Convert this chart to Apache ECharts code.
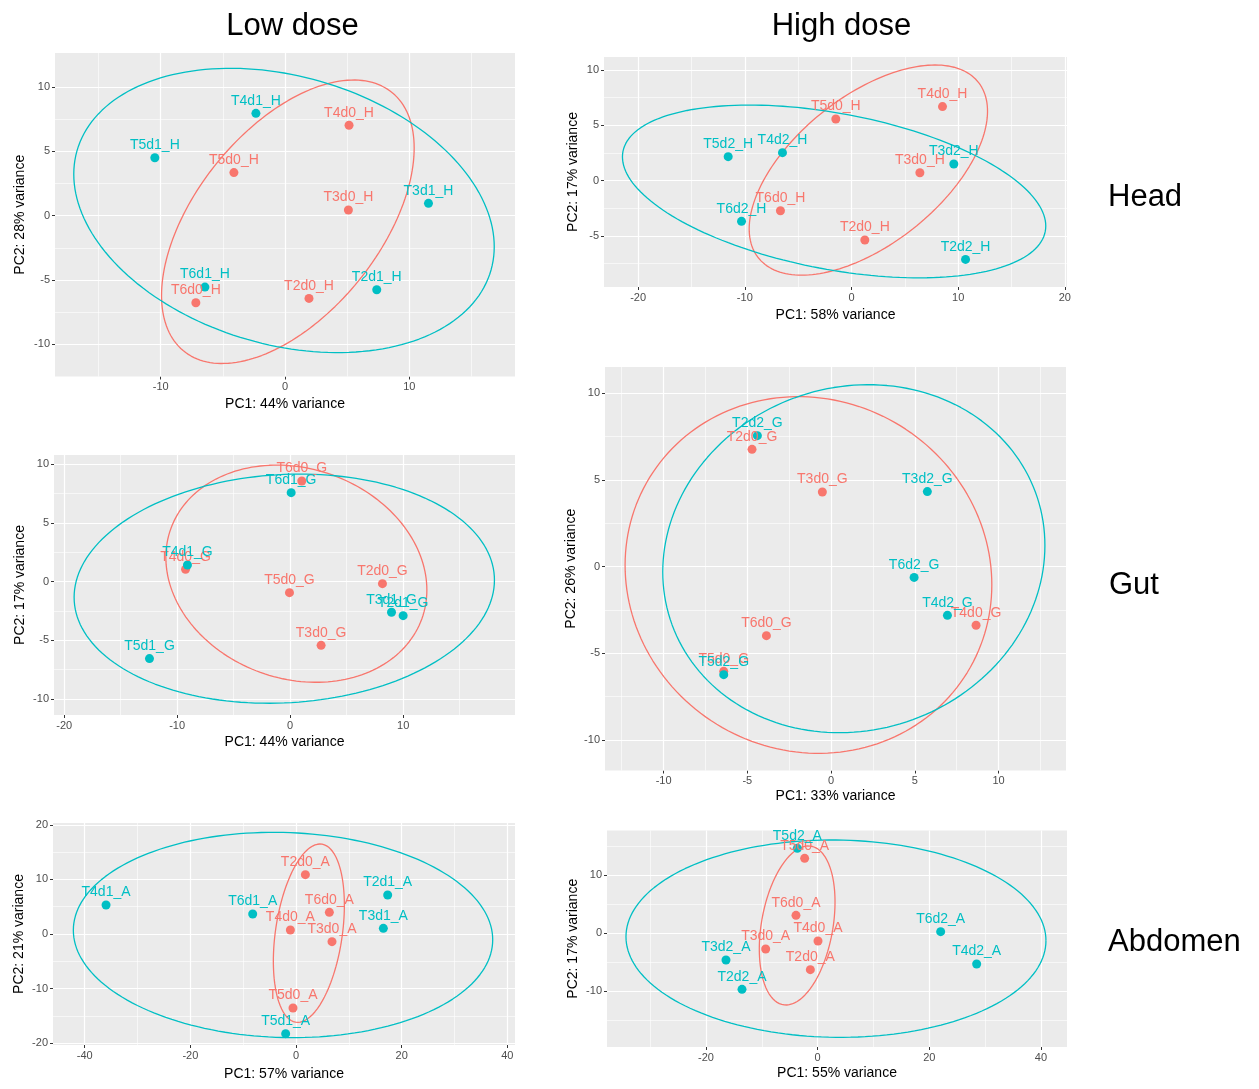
<!DOCTYPE html>
<html><head><meta charset="utf-8">
<script src="https://cdn.jsdelivr.net/npm/echarts@6/dist/echarts.min.js"></script>
<style>html,body{margin:0;padding:0;background:#fff}#c{width:1259px;height:1089px}</style>
</head><body><div id="c"></div><script>
// ---------- DATA ----------
// Head, low dose (d0 vs d1)
const headLowD0Names = ['T2d0_H','T3d0_H','T4d0_H','T5d0_H','T6d0_H'];
const headLowD0PC1 = [1.93, 5.10, 5.15, -4.11, -7.17];
const headLowD0PC2 = [-6.43, 0.44, 7.03, 3.35, -6.77];
const headLowD1Names = ['T2d1_H','T3d1_H','T4d1_H','T5d1_H','T6d1_H'];
const headLowD1PC1 = [7.38, 11.54, -2.34, -10.47, -6.44];
const headLowD1PC2 = [-5.76, 0.96, 7.96, 4.51, -5.55];
// Head, high dose (d0 vs d2)
const headHighD0Names = ['T2d0_H','T3d0_H','T4d0_H','T5d0_H','T6d0_H'];
const headHighD0PC1 = [1.25, 6.41, 8.53, -1.47, -6.66];
const headHighD0PC2 = [-5.36, 0.72, 6.69, 5.57, -2.71];
const headHighD2Names = ['T2d2_H','T3d2_H','T4d2_H','T5d2_H','T6d2_H'];
const headHighD2PC1 = [10.69, 9.59, -6.47, -11.56, -10.31];
const headHighD2PC2 = [-7.11, 1.51, 2.53, 2.17, -3.67];
// Gut, low dose
const gutLowD0Names = ['T2d0_G','T3d0_G','T4d0_G','T5d0_G','T6d0_G'];
const gutLowD0PC1 = [8.17, 2.74, -9.26, -0.06, 1.03];
const gutLowD0PC2 = [-0.17, -5.43, 1.05, -0.94, 8.58];
const gutLowD1Names = ['T2d1_G','T3d1_G','T4d1_G','T5d1_G','T6d1_G'];
const gutLowD1PC1 = [10.0, 8.97, -9.09, -12.45, 0.09];
const gutLowD1PC2 = [-2.90, -2.61, 1.42, -6.56, 7.59];
// Gut, high dose
const gutHighD0Names = ['T2d0_G','T3d0_G','T4d0_G','T5d0_G','T6d0_G'];
const gutHighD0PC1 = [-4.72, -0.52, 8.66, -6.41, -3.86];
const gutHighD0PC2 = [6.77, 4.31, -3.38, -6.04, -3.98];
const gutHighD2Names = ['T2d2_G','T3d2_G','T4d2_G','T5d2_G','T6d2_G'];
const gutHighD2PC1 = [-4.40, 5.75, 6.95, -6.41, 4.96];
const gutHighD2PC2 = [7.56, 4.33, -2.81, -6.23, -0.62];
// Abdomen, low dose
const abdLowD0Names = ['T2d0_A','T3d0_A','T4d0_A','T5d0_A','T6d0_A'];
const abdLowD0PC1 = [1.77, 6.81, -1.07, -0.57, 6.31];
const abdLowD0PC2 = [10.87, -1.40, 0.73, -13.56, 3.97];
const abdLowD1Names = ['T2d1_A','T3d1_A','T4d1_A','T5d1_A','T6d1_A'];
const abdLowD1PC1 = [17.35, 16.53, -35.96, -1.96, -8.20];
const abdLowD1PC2 = [7.15, 1.04, 5.31, -18.26, 3.66];
// Abdomen, high dose
const abdHighD0Names = ['T2d0_A','T3d0_A','T4d0_A','T5d0_A','T6d0_A'];
const abdHighD0PC1 = [-1.31, -9.31, 0.06, -2.33, -3.88];
const abdHighD0PC2 = [-6.34, -2.77, -1.38, 12.91, 3.05];
const abdHighD2Names = ['T2d2_A','T3d2_A','T4d2_A','T5d2_A','T6d2_A'];
const abdHighD2PC1 = [-13.55, -16.42, 28.48, -3.64, 22.03];
const abdHighD2PC2 = [-9.74, -4.67, -5.36, 14.64, 0.23];

// 95% ellipses: [centre PC1, centre PC2, half-extent PC1, half-extent PC2, tilt (cos of phase)]
const headLowEllD0 = [0.23, -0.47, 10.16, 11.02, 0.52];
const headLowEllD1 = [-0.08, 0.41, 16.91, 11.05, -0.255];
const headHighEllD0 = [1.58, 0.96, 11.17, 9.49, 0.56];
const headHighEllD2 = [-1.63, -0.97, 19.84, 7.80, -0.40];
const gutLowEllD0 = [0.55, 0.68, 11.55, 9.26, -0.15];
const gutLowEllD1 = [-0.52, -0.60, 18.6, 9.77, 0.075];
const gutHighEllD0 = [-1.35, -0.48, 10.95, 10.29, -0.055];
const gutHighEllD2 = [1.36, 0.46, 11.41, 10.04, 0.076];
const abdLowEllD0 = [2.43, 0.15, 6.72, 16.34, 0.314];
const abdLowEllD1 = [-2.46, -0.18, 39.69, 18.81, -0.046];
const abdHighEllD0 = [-3.67, 1.30, 6.78, 13.75, 0.295];
const abdHighEllD2 = [3.28, -0.98, 37.61, 17.06, -0.02];

// axis extents, ticks and names
const headLowXRange = [-18.5, 18.5], headLowYRange = [-12.5, 12.65];
const headHighXRange = [-23.2, 20.2], headHighYRange = [-9.6, 11.17];
const gutLowXRange = [-20.9, 19.9], gutLowYRange = [-11.37, 10.8];
const gutHighXRange = [-13.5, 14.03], gutHighYRange = [-11.76, 11.52];
const abdLowXRange = [-46.0, 41.45], abdLowYRange = [-20.34, 20.34];
const abdHighXRange = [-37.73, 44.66], abdHighYRange = [-19.71, 17.72];

const headLowXTicks = [-10, 0, 10], headLowXMinor = [-15, -5, 5, 15];
const headLowYTicks = [-10, -5, 0, 5, 10], headLowYMinor = [-7.5, -2.5, 2.5, 7.5];
const headHighXTicks = [-20, -10, 0, 10, 20], headHighXMinor = [-15, -5, 5, 15];
const headHighYTicks = [-5, 0, 5, 10], headHighYMinor = [-7.5, -2.5, 2.5, 7.5];
const gutLowXTicks = [-20, -10, 0, 10], gutLowXMinor = [-15, -5, 5, 15];
const gutLowYTicks = [-10, -5, 0, 5, 10], gutLowYMinor = [-7.5, -2.5, 2.5, 7.5];
const gutHighXTicks = [-10, -5, 0, 5, 10], gutHighXMinor = [-12.5, -7.5, -2.5, 2.5, 7.5, 12.5];
const gutHighYTicks = [-10, -5, 0, 5, 10], gutHighYMinor = [-7.5, -2.5, 2.5, 7.5];
const abdLowXTicks = [-40, -20, 0, 20, 40], abdLowXMinor = [-30, -10, 10, 30];
const abdLowYTicks = [-20, -10, 0, 10, 20], abdLowYMinor = [-15, -5, 5, 15];
const abdHighXTicks = [-20, 0, 20, 40], abdHighXMinor = [-30, -10, 10, 30];
const abdHighYTicks = [-10, 0, 10], abdHighYMinor = [-15, -5, 5, 15];

const xNames = ['PC1: 44% variance', 'PC1: 58% variance', 'PC1: 44% variance', 'PC1: 33% variance', 'PC1: 57% variance', 'PC1: 55% variance'];
const yNames = ['PC2: 28% variance', 'PC2: 17% variance', 'PC2: 17% variance', 'PC2: 26% variance', 'PC2: 21% variance', 'PC2: 17% variance'];
const columnTitles = ['Low dose', 'High dose'];
const rowTitles = ['Head', 'Gut', 'Abdomen'];

// ---------- LAYOUT / STYLE ----------
const RED = '#F8766D', TEAL = '#00BFC4';
const FONT = '"Liberation Sans", Arial, Helvetica, sans-serif';
const layouts = [
  {left: 55, top: 53, width: 460, height: 323.5, xGap: 21, yGap: 28},
  {left: 604, top: 57, width: 463, height: 230, xGap: 21, yGap: 24},
  {left: 54, top: 455, width: 461, height: 260, xGap: 20, yGap: 27},
  {left: 605, top: 367, width: 461, height: 403.5, xGap: 19, yGap: 27},
  {left: 53, top: 823, width: 462, height: 222, xGap: 22, yGap: 27},
  {left: 607, top: 830.5, width: 460, height: 216.5, xGap: 19, yGap: 27}
];

const panels = [
  {xr: headLowXRange, yr: headLowYRange, xt: headLowXTicks, xm: headLowXMinor, yt: headLowYTicks, ym: headLowYMinor,
   a: [headLowD0Names, headLowD0PC1, headLowD0PC2, headLowEllD0], b: [headLowD1Names, headLowD1PC1, headLowD1PC2, headLowEllD1]},
  {xr: headHighXRange, yr: headHighYRange, xt: headHighXTicks, xm: headHighXMinor, yt: headHighYTicks, ym: headHighYMinor,
   a: [headHighD0Names, headHighD0PC1, headHighD0PC2, headHighEllD0], b: [headHighD2Names, headHighD2PC1, headHighD2PC2, headHighEllD2]},
  {xr: gutLowXRange, yr: gutLowYRange, xt: gutLowXTicks, xm: gutLowXMinor, yt: gutLowYTicks, ym: gutLowYMinor,
   a: [gutLowD0Names, gutLowD0PC1, gutLowD0PC2, gutLowEllD0], b: [gutLowD1Names, gutLowD1PC1, gutLowD1PC2, gutLowEllD1]},
  {xr: gutHighXRange, yr: gutHighYRange, xt: gutHighXTicks, xm: gutHighXMinor, yt: gutHighYTicks, ym: gutHighYMinor,
   a: [gutHighD0Names, gutHighD0PC1, gutHighD0PC2, gutHighEllD0], b: [gutHighD2Names, gutHighD2PC1, gutHighD2PC2, gutHighEllD2]},
  {xr: abdLowXRange, yr: abdLowYRange, xt: abdLowXTicks, xm: abdLowXMinor, yt: abdLowYTicks, ym: abdLowYMinor,
   a: [abdLowD0Names, abdLowD0PC1, abdLowD0PC2, abdLowEllD0], b: [abdLowD1Names, abdLowD1PC1, abdLowD1PC2, abdLowEllD1]},
  {xr: abdHighXRange, yr: abdHighYRange, xt: abdHighXTicks, xm: abdHighXMinor, yt: abdHighYTicks, ym: abdHighYMinor,
   a: [abdHighD0Names, abdHighD0PC1, abdHighD0PC2, abdHighEllD0], b: [abdHighD2Names, abdHighD2PC1, abdHighD2PC2, abdHighEllD2]}
];

function ellipsePoints(e) {
  const [cx, cy, rx, ry, c] = e;
  const d = Math.acos(c);
  const pts = [];
  for (let k = 0; k <= 180; k++) {
    const t = k / 180 * 2 * Math.PI;
    pts.push([cx + rx * Math.cos(t), cy + ry * Math.cos(t - d)]);
  }
  return pts;
}

const grid = [], xAxis = [], yAxis = [], series = [];
panels.forEach((p, i) => {
  const L = layouts[i];
  grid.push({left: L.left, top: L.top, width: L.width, height: L.height, show: true,
             backgroundColor: '#EBEBEB', borderWidth: 0, containLabel: false});
  const axisStyle = (ticks) => ({
    axisLine: {show: false, onZero: false},
    axisTick: {show: true, length: 3, customValues: ticks, lineStyle: {color: '#333333', width: 1}},
    axisLabel: {show: true, customValues: ticks, color: '#4D4D4D', fontSize: 11, fontFamily: FONT, margin: 5},
    splitLine: {show: false}
  });
  xAxis.push(Object.assign({type: 'value', gridIndex: i, min: p.xr[0], max: p.xr[1], position: 'bottom',
    name: xNames[i], nameLocation: 'middle', nameGap: L.xGap,
    nameTextStyle: {fontSize: 14, color: '#000', fontFamily: FONT}}, axisStyle(p.xt)));
  yAxis.push(Object.assign({type: 'value', gridIndex: i, min: p.yr[0], max: p.yr[1], position: 'left',
    name: yNames[i], nameLocation: 'middle', nameGap: L.yGap, nameRotate: 90,
    nameTextStyle: {fontSize: 14, color: '#000', fontFamily: FONT}}, axisStyle(p.yt)));

  // panel grid lines (major + minor), placed through the axes' own scales
  const gl = [];
  p.xm.forEach(v => gl.push({xAxis: v, lineStyle: {width: 0.6}}));
  p.ym.forEach(v => gl.push({yAxis: v, lineStyle: {width: 0.6}}));
  p.xt.forEach(v => gl.push({xAxis: v, lineStyle: {width: 1.2}}));
  p.yt.forEach(v => gl.push({yAxis: v, lineStyle: {width: 1.2}}));
  series.push({
    type: 'scatter', xAxisIndex: i, yAxisIndex: i, data: [], z: 1, silent: true,
    markLine: {silent: true, z: 1, symbol: ['none', 'none'], label: {show: false}, animation: false,
      lineStyle: {color: '#FFFFFF', type: 'solid', opacity: 1}, emphasis: {disabled: true}, data: gl}
  });

  [[p.a, RED], [p.b, TEAL]].forEach(([g, col]) => {
    const [names, xs, ys, ell] = g;
    series.push({
      type: 'line', xAxisIndex: i, yAxisIndex: i, data: ellipsePoints(ell),
      showSymbol: false, symbol: 'none', silent: true, z: 2,
      lineStyle: {color: col, width: 1.3}
    });
    series.push({
      type: 'scatter', xAxisIndex: i, yAxisIndex: i, z: 3,
      data: names.map((n, k) => ({name: n, value: [xs[k], ys[k]]})),
      symbol: 'circle', symbolSize: 9, itemStyle: {color: col, opacity: 1},
      label: {show: true, position: 'top', distance: 1, formatter: '{b}', color: col, fontSize: 14, fontFamily: FONT}
    });
  });
});

const titleFont = '31px "Liberation Sans", Arial, Helvetica, sans-serif';
const graphic = [
  {type: 'text', x: 292.5, y: 26, style: {text: columnTitles[0], font: titleFont, fill: '#000', align: 'center', verticalAlign: 'middle'}},
  {type: 'text', x: 841.5, y: 26, style: {text: columnTitles[1], font: titleFont, fill: '#000', align: 'center', verticalAlign: 'middle'}},
  {type: 'text', x: 1108, y: 197, style: {text: rowTitles[0], font: titleFont, fill: '#000', align: 'left', verticalAlign: 'middle'}},
  {type: 'text', x: 1109, y: 585, style: {text: rowTitles[1], font: titleFont, fill: '#000', align: 'left', verticalAlign: 'middle'}},
  {type: 'text', x: 1108, y: 942, style: {text: rowTitles[2], font: titleFont, fill: '#000', align: 'left', verticalAlign: 'middle'}}
];

const chart = echarts.init(document.getElementById('c'), null, {renderer: 'canvas'});
chart.setOption({animation: false, backgroundColor: '#FFFFFF', grid, xAxis, yAxis, series, graphic});
</script></body></html>
